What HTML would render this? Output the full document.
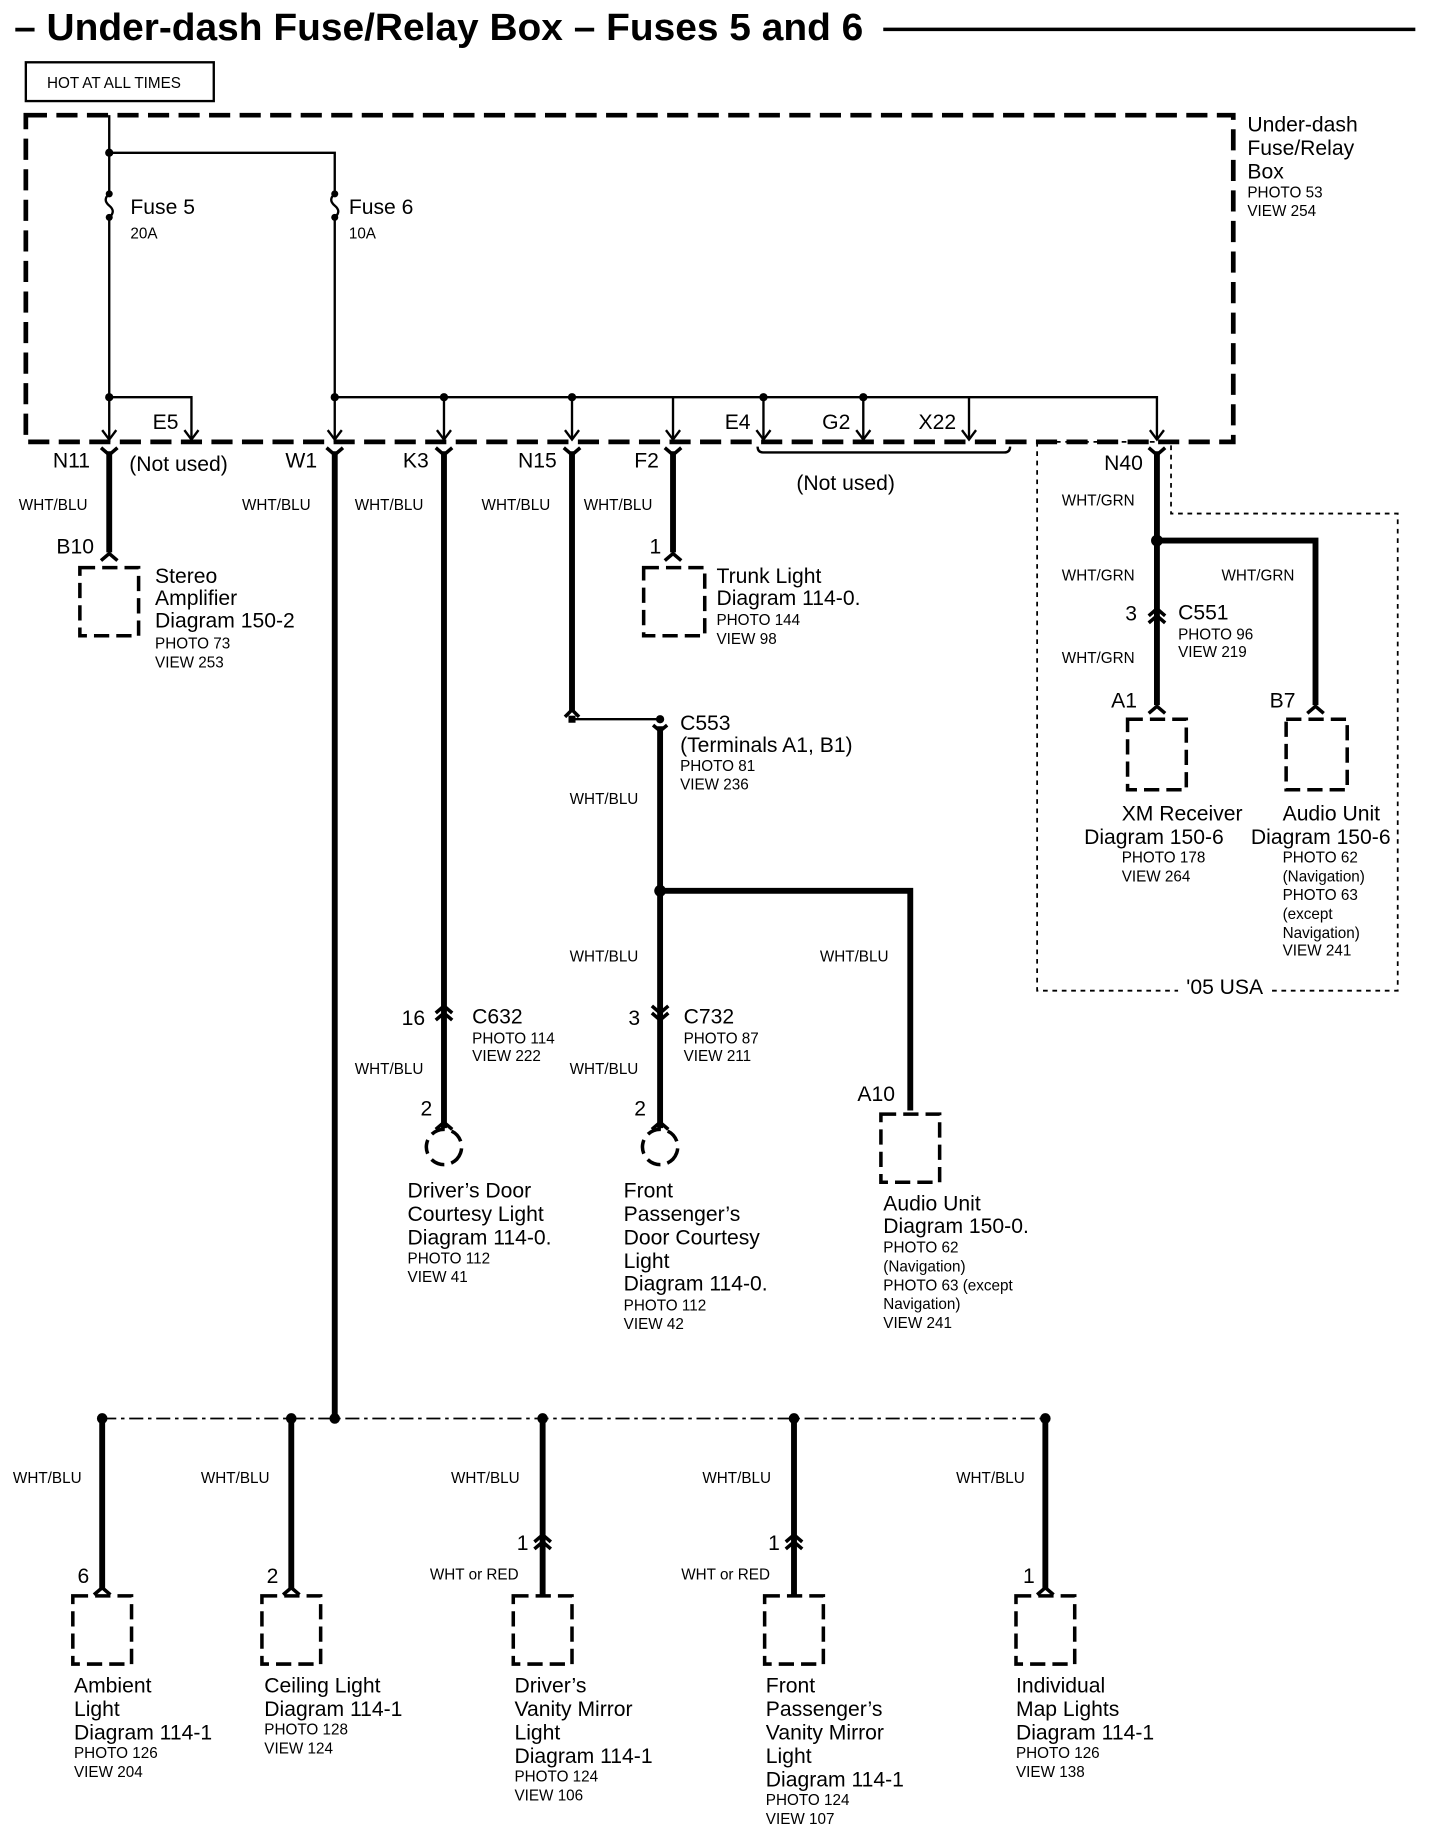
<!DOCTYPE html>
<html><head><meta charset="utf-8"><style>
html,body{margin:0;padding:0;background:#fff}
svg{display:block}
text{font-family:"Liberation Sans",Arial,sans-serif;fill:#000}
.b{font-size:18px}.s{font-size:13px}.w{font-size:13px}
.th{stroke:#000;stroke-width:2;fill:none}
.hv{stroke:#000;stroke-width:5;fill:none}
.cn{stroke:#000;stroke-width:3;fill:none}
.bx{stroke:#000;stroke-width:3;fill:none;stroke-dasharray:13,6}
</style></head><body>
<svg width="1440" height="1838" viewBox="0 0 1226 1564" preserveAspectRatio="none" xmlns="http://www.w3.org/2000/svg">
<text x="12" y="34" textLength="723" lengthAdjust="spacingAndGlyphs" style="font-size:32px;font-weight:bold">– Under-dash Fuse/Relay Box – Fuses 5 and 6</text>
<line x1="752" y1="25" x2="1205" y2="25" stroke="#000" stroke-width="3"/>
<rect x="22" y="53" width="160" height="33" fill="none" stroke="#000" stroke-width="2"/>
<text x="40" y="75" class="s">HOT AT ALL TIMES</text>
<rect x="22" y="98" width="1028" height="278" fill="none" stroke="#000" stroke-width="4" stroke-dasharray="18,8"/>
<text x="1062" y="112" class="b">Under-dash</text><text x="1062" y="132" class="b">Fuse/Relay</text><text x="1062" y="152" class="b">Box</text>
<text x="1062" y="168" class="s">PHOTO 53</text><text x="1062" y="184" class="s">VIEW 254</text>
<path class="th" d="M93 98V165 M93 185V376 M93 130H285V165 M285 185V376"/>
<path class="th" d="M93 165q-6 5 0 10q6 5 0 10 M285 165q-6 5 0 10q6 5 0 10"/>
<g fill="#000"><circle cx="93" cy="130" r="3.5"/><circle cx="93" cy="165" r="3"/><circle cx="93" cy="185" r="3"/><circle cx="285" cy="165" r="3"/><circle cx="285" cy="185" r="3"/>
<circle cx="93" cy="338" r="3.5"/><circle cx="285" cy="338" r="3.5"/><circle cx="378" cy="338" r="3.5"/><circle cx="487" cy="338" r="3.5"/><circle cx="650" cy="338" r="3.5"/><circle cx="735" cy="338" r="3.5"/></g>
<text x="111" y="182" class="b">Fuse 5</text><text x="111" y="203" class="s">20A</text>
<text x="297" y="182" class="b">Fuse 6</text><text x="297" y="203" class="s">10A</text>
<path class="th" d="M93 338H163V374 M285 338H985V374 M378 338V374 M487 338V374 M573 338V374 M650 338V374 M735 338V374 M825 338V374"/>
<path class="th" d="M87 366l6 8 6-8 M157 366l6 8 6-8 M279 366l6 8 6-8 M372 366l6 8 6-8 M481 366l6 8 6-8 M567 366l6 8 6-8 M644 366l6 8 6-8 M729 366l6 8 6-8 M819 366l6 8 6-8 M979 366l6 8 6-8"/>
<text x="130" y="365" class="b">E5</text><text x="617" y="365" class="b">E4</text><text x="700" y="365" class="b">G2</text><text x="782" y="365" class="b">X22</text>
<path class="th" d="M645 380q0 5 5 5H855q5 0 5-5"/>
<text x="678" y="417" class="b">(Not used)</text>
<text x="45" y="398" class="b">N11</text><text x="110" y="401" class="b">(Not used)</text><text x="243" y="398" class="b">W1</text>
<text x="343" y="398" class="b">K3</text><text x="441" y="398" class="b">N15</text><text x="540" y="398" class="b">F2</text><text x="940" y="400" class="b">N40</text>
<path class="cn" d="M86 381l7 6 7-6 M278 381l7 6 7-6 M371 381l7 6 7-6 M480 381l7 6 7-6 M566 381l7 6 7-6 M978 381l7 6 7-6"/>
<path class="hv" d="M93 384V470 M285 384V1207 M378 384V960 M487 384V605 M573 384V470 M562 618V960 M562 758H775V945 M985 384V600 M985 460H1120V600"/>
<path class="th" d="M487 612H562"/>
<g fill="#000"><circle cx="562" cy="758" r="5"/><circle cx="985" cy="460" r="5"/><rect x="484" y="609" width="6" height="6"/><circle cx="562" cy="612" r="3.5"/></g>
<path class="cn" d="M481 610l6-6 6 6 M556 617l6 5 6-5"/>
<text x="16" y="434" class="w">WHT/BLU</text><text x="48" y="471" class="b">B10</text>
<path class="cn" d="M86 477l7-6 7 6"/>
<rect class="bx" x="68" y="483" width="50" height="58"/>
<text x="132" y="496" class="b">Stereo</text><text x="132" y="515" class="b">Amplifier</text><text x="132" y="534" class="b">Diagram  150-2</text>
<text x="132" y="552" class="s">PHOTO 73</text><text x="132" y="568" class="s">VIEW 253</text>
<text x="206" y="434" class="w">WHT/BLU</text><text x="302" y="434" class="w">WHT/BLU</text><text x="410" y="434" class="w">WHT/BLU</text><text x="497" y="434" class="w">WHT/BLU</text>
<text x="553" y="471" class="b">1</text><path class="cn" d="M566 477l7-6 7 6"/>
<rect class="bx" x="548" y="483" width="52" height="58"/>
<text x="610" y="496" class="b">Trunk Light</text><text x="610" y="515" class="b">Diagram 114-0.</text>
<text x="610" y="532" class="s">PHOTO 144</text><text x="610" y="548" class="s">VIEW 98</text>
<text x="579" y="621" class="b">C553</text><text x="579" y="640" class="b">(Terminals A1, B1)</text>
<text x="579" y="656" class="s">PHOTO 81</text><text x="579" y="672" class="s">VIEW 236</text>
<text x="485" y="684" class="w">WHT/BLU</text><text x="485" y="818" class="w">WHT/BLU</text><text x="698" y="818" class="w">WHT/BLU</text>
<path class="cn" d="M371 862l7-6 7 6 M371 868l7-6 7 6"/>
<text x="342" y="872" class="b">16</text><text x="402" y="871" class="b">C632</text>
<text x="402" y="888" class="s">PHOTO 114</text><text x="402" y="903" class="s">VIEW 222</text>
<text x="302" y="914" class="w">WHT/BLU</text>
<text x="358" y="949" class="b">2</text><path class="cn" d="M371 961l7-6 7 6"/>
<circle cx="378" cy="976" r="15" fill="none" stroke="#000" stroke-width="3" stroke-dasharray="12,6" transform="rotate(20 378 976)"/>
<text x="347" y="1019" class="b">Driver’s Door</text><text x="347" y="1039" class="b">Courtesy Light</text><text x="347" y="1059" class="b">Diagram 114-0.</text>
<text x="347" y="1075" class="s">PHOTO 112</text><text x="347" y="1091" class="s">VIEW 41</text>
<path class="cn" d="M555 856l7 6 7-6 M555 862l7 6 7-6"/>
<text x="535" y="872" class="b">3</text><text x="582" y="871" class="b">C732</text>
<text x="582" y="888" class="s">PHOTO 87</text><text x="582" y="903" class="s">VIEW 211</text>
<text x="485" y="914" class="w">WHT/BLU</text>
<text x="540" y="949" class="b">2</text><path class="cn" d="M555 961l7-6 7 6"/>
<circle cx="562" cy="976" r="15" fill="none" stroke="#000" stroke-width="3" stroke-dasharray="12,6" transform="rotate(20 562 976)"/>
<text x="531" y="1019" class="b">Front</text><text x="531" y="1039" class="b">Passenger’s</text><text x="531" y="1059" class="b">Door Courtesy</text><text x="531" y="1079" class="b">Light</text><text x="531" y="1098" class="b">Diagram 114-0.</text>
<text x="531" y="1115" class="s">PHOTO 112</text><text x="531" y="1131" class="s">VIEW 42</text>
<text x="730" y="937" class="b">A10</text>
<rect class="bx" x="750" y="948" width="50" height="58"/>
<text x="752" y="1030" class="b">Audio Unit</text><text x="752" y="1049" class="b">Diagram 150-0.</text>
<text x="752" y="1066" class="s">PHOTO 62</text><text x="752" y="1082" class="s">(Navigation)</text><text x="752" y="1098" class="s">PHOTO 63 (except</text><text x="752" y="1114" class="s">Navigation)</text><text x="752" y="1130" class="s">VIEW 241</text>
<path d="M883 376V843H1003 M1083 843H1190V437H997V376 M883 376H997" fill="none" stroke="#000" stroke-width="1.5" stroke-dasharray="4,4"/>
<text x="1010" y="846" class="b">'05 USA</text>
<text x="904" y="430" class="w">WHT/GRN</text><text x="904" y="494" class="w">WHT/GRN</text><text x="1040" y="494" class="w">WHT/GRN</text>
<path class="cn" d="M978 524l7-6 7 6 M978 530l7-6 7 6"/>
<text x="958" y="528" class="b">3</text><text x="1003" y="527" class="b">C551</text>
<text x="1003" y="544" class="s">PHOTO 96</text><text x="1003" y="559" class="s">VIEW 219</text>
<text x="904" y="564" class="w">WHT/GRN</text>
<text x="946" y="602" class="b">A1</text><text x="1081" y="602" class="b">B7</text>
<path class="cn" d="M978 607l7-6 7 6 M1113 607l7-6 7 6"/>
<rect class="bx" x="960" y="612" width="50" height="60"/><rect class="bx" x="1095" y="612" width="52" height="60"/>
<text x="955" y="698" class="b">XM Receiver</text><text x="923" y="718" class="b">Diagram 150-6</text>
<text x="955" y="734" class="s">PHOTO 178</text><text x="955" y="750" class="s">VIEW 264</text>
<text x="1092" y="698" class="b">Audio Unit</text><text x="1065" y="718" class="b">Diagram 150-6</text>
<text x="1092" y="734" class="s">PHOTO 62</text><text x="1092" y="750" class="s">(Navigation)</text><text x="1092" y="766" class="s">PHOTO 63</text><text x="1092" y="782" class="s">(except</text><text x="1092" y="798" class="s">Navigation)</text><text x="1092" y="813" class="s">VIEW 241</text>
<line x1="87" y1="1207" x2="890" y2="1207" stroke="#000" stroke-width="1.5" stroke-dasharray="12,4,3,4"/>
<g fill="#000"><circle cx="87" cy="1207" r="4.5"/><circle cx="248" cy="1207" r="4.5"/><circle cx="285" cy="1207" r="4.5"/><circle cx="462" cy="1207" r="4.5"/><circle cx="676" cy="1207" r="4.5"/><circle cx="890" cy="1207" r="4.5"/></g>
<path class="hv" d="M87 1207V1352 M248 1207V1352 M462 1207V1357 M676 1207V1357 M890 1207V1352"/>
<text x="11" y="1262" class="w">WHT/BLU</text><text x="171" y="1262" class="w">WHT/BLU</text><text x="384" y="1262" class="w">WHT/BLU</text><text x="598" y="1262" class="w">WHT/BLU</text><text x="814" y="1262" class="w">WHT/BLU</text>
<path class="cn" d="M455 1312l7-6 7 6 M455 1318l7-6 7 6 M669 1312l7-6 7 6 M669 1318l7-6 7 6"/>
<text x="440" y="1319" class="b">1</text><text x="654" y="1319" class="b">1</text>
<text x="366" y="1344" class="w">WHT or RED</text><text x="580" y="1344" class="w">WHT or RED</text>
<text x="66" y="1347" class="b">6</text><text x="227" y="1347" class="b">2</text><text x="871" y="1347" class="b">1</text>
<path class="cn" d="M80 1357l7-6 7 6 M241 1357l7-6 7 6 M883 1357l7-6 7 6"/>
<rect class="bx" x="62" y="1358" width="50" height="58"/><rect class="bx" x="223" y="1358" width="50" height="58"/>
<rect class="bx" x="437" y="1358" width="50" height="58"/><rect class="bx" x="651" y="1358" width="50" height="58"/><rect class="bx" x="865" y="1358" width="50" height="58"/>
<text x="63" y="1440" class="b">Ambient</text><text x="63" y="1460" class="b">Light</text><text x="63" y="1480" class="b">Diagram 114-1</text><text x="63" y="1496" class="s">PHOTO 126</text><text x="63" y="1512" class="s">VIEW 204</text>
<text x="225" y="1440" class="b">Ceiling Light</text><text x="225" y="1460" class="b">Diagram 114-1</text><text x="225" y="1476" class="s">PHOTO 128</text><text x="225" y="1492" class="s">VIEW 124</text>
<text x="438" y="1440" class="b">Driver’s</text><text x="438" y="1460" class="b">Vanity Mirror</text><text x="438" y="1480" class="b">Light</text><text x="438" y="1500" class="b">Diagram 114-1</text><text x="438" y="1516" class="s">PHOTO 124</text><text x="438" y="1532" class="s">VIEW 106</text>
<text x="652" y="1440" class="b">Front</text><text x="652" y="1460" class="b">Passenger’s</text><text x="652" y="1480" class="b">Vanity Mirror</text><text x="652" y="1500" class="b">Light</text><text x="652" y="1520" class="b">Diagram 114-1</text><text x="652" y="1536" class="s">PHOTO 124</text><text x="652" y="1552" class="s">VIEW 107</text>
<text x="865" y="1440" class="b">Individual</text><text x="865" y="1460" class="b">Map Lights</text><text x="865" y="1480" class="b">Diagram 114-1</text><text x="865" y="1496" class="s">PHOTO 126</text><text x="865" y="1512" class="s">VIEW 138</text>
</svg>
</body></html>
